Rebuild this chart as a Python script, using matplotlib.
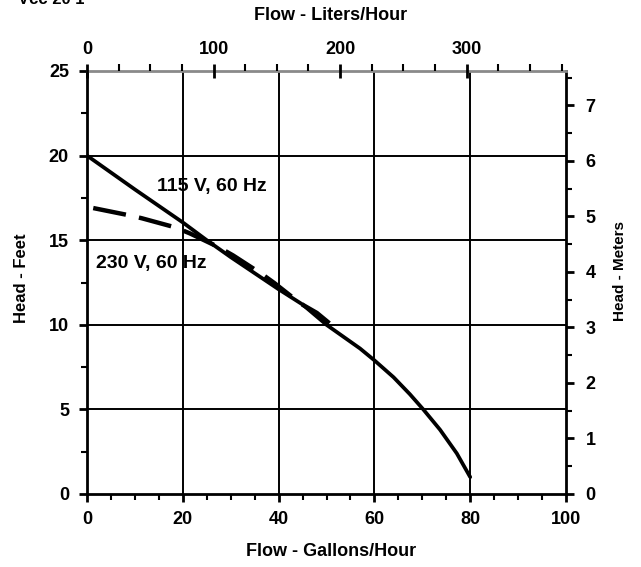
import matplotlib
matplotlib.use("Agg")
import matplotlib.pyplot as plt
from matplotlib.ticker import MultipleLocator

plt.rcParams['font.family'] = ['Liberation Sans', 'DejaVu Sans']
plt.rcParams['font.weight'] = 'bold'

# Data (Flow in gallons/hour, Head in feet)
flow_115 = [0, 10, 20, 25, 30, 40, 45, 50, 55, 57, 60, 64, 67.4, 70.2, 73.7, 77.2, 80]
head_115 = [20, 18, 16.05, 15.0, 14.0, 12.1, 11.2, 10.0, 9.0, 8.6, 7.9, 6.9, 5.9, 5.0, 3.8, 2.4, 1.0]
flow_230 = [1.3, 8.3, 11.4, 18.4, 21.5, 27.4, 30.5, 36.5, 39.2, 44.5, 48, 51]
head_230 = [16.9, 16.5, 16.3, 15.76, 15.4, 14.6, 14.1, 13.0, 12.45, 11.27, 10.7, 10.0]
label_115 = "115 V, 60 Hz"
label_230 = "230 V, 60 Hz"
top_title = "Flow - Liters/Hour"
bottom_title = "Flow - Gallons/Hour"
left_title = "Head - Feet"
right_title = "Head - Meters"

GAL_TO_L = 3.78541
FT_PER_M = 3.28084

W, H = 641, 567
fig = plt.figure(figsize=(W / 100, H / 100), dpi=100)
ax = fig.add_axes([87 / W, (H - 494) / H, (566 - 87) / W, (494 - 71) / H])

ax.set_xlim(0, 100)
ax.set_ylim(0, 25)

# grid
for gx in [20, 40, 60, 80]:
    ax.axvline(gx, color='black', lw=1.4, zorder=1)
for gy in [5, 10, 15, 20]:
    ax.axhline(gy, color='black', lw=1.4, zorder=1)

ax.plot(flow_115, head_115, color='black', lw=2.7, solid_capstyle='round',
        solid_joinstyle='round', zorder=3)
ax.plot(flow_230, head_230, color='black', lw=3.2, dashes=(7.5, 3),
        dash_capstyle='butt', zorder=3)

ax.text(26, 18.2, label_115, fontsize=14, fontweight='bold', ha='center', va='center')
ax.text(13.4, 13.6, label_230, fontsize=14, fontweight='bold', ha='center', va='center')

for s in ['left', 'bottom', 'right']:
    ax.spines[s].set_linewidth(2)
    ax.spines[s].set_color('black')
ax.spines['top'].set_color('#8a8a8a')
ax.spines['top'].set_linewidth(2)

ax.xaxis.set_major_locator(MultipleLocator(20))
ax.xaxis.set_minor_locator(MultipleLocator(5))
ax.yaxis.set_major_locator(MultipleLocator(5))
ax.yaxis.set_minor_locator(MultipleLocator(2.5))
ax.tick_params(axis='both', which='major', direction='out', length=6, width=2, labelsize=13, pad=6)
ax.tick_params(axis='both', which='minor', direction='out', length=4, width=1.5)
ax.tick_params(axis='y', which='major', pad=7)
for lbl in ax.get_xticklabels() + ax.get_yticklabels():
    lbl.set_fontweight('bold')

# right axis (meters)
ax2 = ax.twinx()
ax2.set_ylim(0, 25 / FT_PER_M)
ax2.yaxis.set_major_locator(MultipleLocator(1))
ax2.yaxis.set_minor_locator(MultipleLocator(0.5))
ax2.tick_params(axis='y', which='major', direction='out', length=6, width=2, labelsize=13, pad=8)
ax2.tick_params(axis='y', which='minor', direction='out', length=4, width=1.5)
for lbl in ax2.get_yticklabels():
    lbl.set_fontweight('bold')
for s in ax2.spines.values():
    s.set_visible(False)

# top axis (liters)
ax3 = ax.twiny()
ax3.set_xlim(0, 100 * GAL_TO_L)
ax3.xaxis.set_major_locator(MultipleLocator(100))
ax3.xaxis.set_minor_locator(MultipleLocator(25))
ax3.tick_params(axis='x', which='major', direction='inout', length=10, width=2, labelsize=13, pad=4)
ax3.tick_params(axis='x', which='minor', direction='out', length=5, width=1.5)
for lbl in ax3.get_xticklabels():
    lbl.set_fontweight('bold')
for s in ax3.spines.values():
    s.set_visible(False)

# axis titles
fig.text(331 / W, 1 - 15 / H, top_title, fontsize=13, fontweight='bold', ha='center', va='center')
fig.text(331 / W, 1 - 551 / H, bottom_title, fontsize=13, fontweight='bold', ha='center', va='center')
fig.text(22 / W, 1 - 278 / H, left_title, fontsize=12, fontweight='bold', ha='center', va='center', rotation=90)
fig.text(620 / W, 1 - 271 / H, right_title, fontsize=11, fontweight='bold', ha='center', va='center', rotation=90)

fig.text(18 / W, 1 - 4 / H, "Vcc 20 1", fontsize=12, ha='left', va='baseline')

fig.savefig("out.png", dpi=100)
